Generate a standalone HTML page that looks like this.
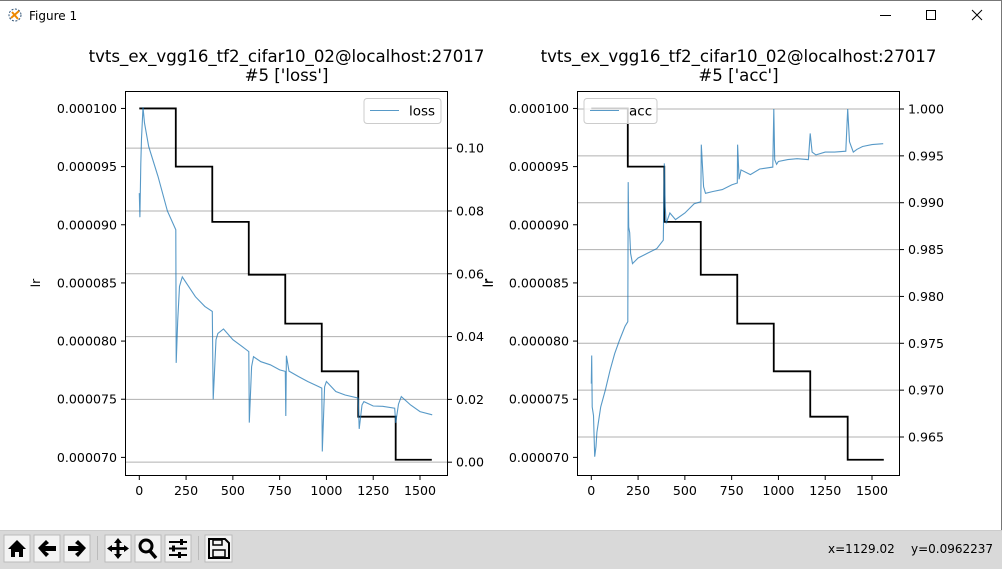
<!DOCTYPE html>
<html><head><meta charset="utf-8">
<style>
html,body{margin:0;padding:0;background:#fff;}
body{width:1002px;height:569px;position:relative;overflow:hidden;font-family:"DejaVu Sans","Liberation Sans",sans-serif;}
svg text{font-family:"DejaVu Sans","Liberation Sans",sans-serif;}
</style></head>
<body>
<svg id="fig" width="1002" height="569" viewBox="0 0 1002 569" xmlns="http://www.w3.org/2000/svg">
  <rect x="0" y="0" width="1002" height="569" fill="#fff"/>
  <line x1="0" y1="0.5" x2="1002" y2="0.5" stroke="#777"/>
  <line x1="1001.5" y1="0" x2="1001.5" y2="569" stroke="#777"/>
  <g>
    <circle cx="15" cy="15" r="6" fill="none" stroke="#357" stroke-dasharray="2,1.5"/>
    <path d="M11 18 L19 11 M12 12 L18 19" stroke="#e80" stroke-width="2"/>
    <text x="29" y="20" font-size="12" fill="#000" font-family="Liberation Sans, sans-serif">Figure 1</text>
    <line x1="880" y1="15.5" x2="891" y2="15.5" stroke="#000"/>
    <rect x="926.5" y="10.5" width="9" height="9" fill="none" stroke="#000"/>
    <path d="M972 10 L982 20 M982 10 L972 20" stroke="#000"/>
  </g>
  <g id="charts"></g>
  <g>
    <rect x="0" y="531" width="1002" height="38" fill="#d9d9d9"/>
    <line x1="0" y1="530.5" x2="1002" y2="530.5" stroke="#ccc"/>
    <g><rect x="4" y="535" width="26" height="27" fill="#f3f3f3" stroke="#bbb"/><path d="M17 540 L8 549 L11 549 L11 557 L15 557 L15 552 L19 552 L19 557 L23 557 L23 549 L26 549 Z" fill="#000"/></g>
    <g><rect x="34" y="535" width="26" height="27" fill="#f3f3f3" stroke="#bbb"/><path d="M38 548 L46 540 L49 543 L45 546 L56 546 L56 551 L45 551 L49 554 L46 557 Z" fill="#000"/></g>
    <g><rect x="64" y="535" width="26" height="27" fill="#f3f3f3" stroke="#bbb"/><path d="M86 548 L78 540 L75 543 L79 546 L68 546 L68 551 L79 551 L75 554 L78 557 Z" fill="#000"/></g>
    <line x1="97.5" y1="536" x2="97.5" y2="560" stroke="#bbb"/>
    <g><rect x="105" y="535" width="26" height="27" fill="#f3f3f3" stroke="#bbb"/><path d="M118 538 L122 543 L119.5 543 L119.5 547 L124 547 L124 545 L129 548.5 L124 552 L124 550 L119.5 550 L119.5 554 L122 554 L118 559 L114 554 L116.5 554 L116.5 550 L112 550 L112 552 L107 548.5 L112 545 L112 547 L116.5 547 L116.5 543 L114 543 Z" fill="#000"/></g>
    <g><rect x="135" y="535" width="26" height="27" fill="#f3f3f3" stroke="#bbb"/><circle cx="146" cy="546" r="6" fill="none" stroke="#000" stroke-width="3"/><line x1="150" y1="551" x2="156" y2="558" stroke="#000" stroke-width="3.5"/></g>
    <g><rect x="165" y="535" width="26" height="27" fill="#f3f3f3" stroke="#bbb"/><path d="M169 542h18M169 548.5h18M169 555h18" stroke="#000" stroke-width="2"/><rect x="180" y="539" width="3" height="6" fill="#000"/><rect x="172" y="545.5" width="3" height="6" fill="#000"/><rect x="178" y="552" width="3" height="6" fill="#000"/></g>
    <line x1="198.5" y1="536" x2="198.5" y2="560" stroke="#bbb"/>
    <g><rect x="205" y="535" width="27" height="27" fill="#f3f3f3" stroke="#bbb"/><path d="M209 539 H225 L229 543 V558 H209 Z" fill="none" stroke="#000" stroke-width="2"/><rect x="213" y="540" width="9" height="5" fill="none" stroke="#000" stroke-width="1.5"/><rect x="213" y="550" width="12" height="7" fill="none" stroke="#000" stroke-width="1.5"/></g>
    <text x="828" y="553" font-size="12" font-family="Liberation Sans, sans-serif">x=1129.02</text>
    <text x="911" y="553" font-size="12" font-family="Liberation Sans, sans-serif">y=0.0962237</text>
  </g>
</svg>
<script>
// ---- data ----
const lrStepStarts = [0, 195, 390, 585, 780, 975, 1170, 1370];
const lrValues = [0.0001, 0.000095, 0.00009025, 0.0000857, 0.0000815, 0.0000774, 0.0000735, 0.0000698];
const lrEndStep = 1563;
const lossSteps = [0,3,8,12,20,28,50,100,150,195,197,205,215,230,300,350,390,395,410,420,450,500,550,585,588,600,610,650,700,750,780,783,786,800,850,900,950,975,978,990,1000,1050,1100,1170,1175,1190,1200,1250,1300,1365,1370,1385,1400,1450,1500,1565];
const lossValues = [0.0857,0.078,0.095,0.103,0.113,0.108,0.1005,0.091,0.080,0.074,0.0316,0.045,0.056,0.059,0.0527,0.0496,0.048,0.020,0.039,0.041,0.0424,0.039,0.0368,0.0352,0.0126,0.0304,0.0336,0.032,0.031,0.0294,0.0289,0.0147,0.0339,0.029,0.0273,0.0257,0.0243,0.0236,0.0034,0.024,0.0257,0.0225,0.0214,0.0204,0.0106,0.0182,0.0193,0.0179,0.0178,0.0172,0.0125,0.0185,0.0209,0.0182,0.0161,0.0151];
const accSteps = [0,2,5,12,18,25,30,50,75,100,125,150,180,195,197,200,205,210,220,250,300,350,385,390,395,400,420,450,500,550,585,588,600,610,650,700,750,780,782,790,800,850,900,970,975,980,990,1000,1050,1100,1160,1170,1180,1200,1250,1300,1360,1370,1380,1400,1420,1450,1500,1560];
const accValues = [0.9707,0.9737,0.9682,0.9673,0.9629,0.964,0.9655,0.9682,0.970,0.9721,0.9739,0.9753,0.9768,0.9773,0.9922,0.9874,0.9868,0.9846,0.9835,0.9841,0.9846,0.9851,0.986,0.9942,0.9896,0.9878,0.9889,0.9882,0.9889,0.9899,0.9901,0.9962,0.9917,0.991,0.9912,0.9914,0.9919,0.9921,0.9962,0.9925,0.9935,0.993,0.9936,0.9938,1.0,0.9946,0.9941,0.9944,0.9946,0.9947,0.9946,0.9974,0.9954,0.9951,0.9954,0.9954,0.9955,1.0,0.9965,0.9954,0.9957,0.996,0.9962,0.9963];
const xTicks = [0,250,500,750,1000,1250,1500];
const lrTicks = [0.000070,0.000075,0.000080,0.000085,0.000090,0.000095,0.000100];
const lossTicks = [0.00,0.02,0.04,0.06,0.08,0.10];
const accTicks = [0.965,0.970,0.975,0.980,0.985,0.990,0.995,1.000];

const NS = 'http://www.w3.org/2000/svg';
const root = document.getElementById('charts');
function mk(tag, attrs, parent){const e=document.createElementNS(NS,tag);for(const k in attrs)e.setAttribute(k,attrs[k]);(parent||root).appendChild(e);return e;}
const FS = 12.6;

function drawChart(cfg){
  const g = mk('g',{});
  
  
  const L=cfg.left,R=cfg.left+323,T=91,B=476;
  const LRTOP=0.0001015, LRBOT=0.0000684;
  const xs = v => L + (v - (-76.4)) * (323/(1649.6+76.4));
  const yl = v => T + (LRTOP - v) * (385/(LRTOP-LRBOT));
  const yr = v => T + (cfg.rmax - v) * (385/(cfg.rmax-cfg.rmin));
  cfg.rTicks.forEach(t=>{
    const gl = mk('line',{x1:L,x2:R,y1:yr(t),y2:yr(t),stroke:'#b0b0b0','stroke-width':1},g);
    
    
  });
  let d='';
  lrStepStarts.forEach((s,i)=>{
    const e = i<lrStepStarts.length-1 ? lrStepStarts[i+1] : lrEndStep;
    d += (i===0?'M':'L')+xs(s)+' '+yl(lrValues[i])+' L'+xs(e)+' '+yl(lrValues[i])+' ';
  });
  const lrp = mk('path',{d:d,fill:'none',stroke:'#000','stroke-width':1.8},g);
  
  
  const sd = cfg.steps.map((s,i)=>(i?'L':'M')+xs(s).toFixed(1)+' '+yr(cfg.vals[i]).toFixed(1)).join(' ');
  const sp = mk('path',{d:sd,fill:'none',stroke:'#1f77b4','stroke-opacity':0.75,'stroke-width':1.1},g);
  
  
  const fr = mk('rect',{x:L+0.5,y:T+0.5,width:R-L-1,height:B-T-1,fill:'none',stroke:'#000','stroke-width':1},g);
  
  
  xTicks.forEach(t=>{
    mk('line',{x1:xs(t),x2:xs(t),y1:B,y2:B+4,stroke:'#000'},g);
    const tx = mk('text',{x:xs(t),y:B+19,'font-size':FS,'text-anchor':'middle'},g);
    tx.textContent = t;
    
    
  });
  lrTicks.forEach(t=>{
    mk('line',{x1:L-4,x2:L,y1:yl(t),y2:yl(t),stroke:'#000'},g);
    const tx = mk('text',{x:L-8,y:yl(t)+4.5,'font-size':FS,'text-anchor':'end'},g);
    tx.textContent = t.toFixed(6);
    
    
  });
  cfg.rTicks.forEach(t=>{
    mk('line',{x1:R,x2:R+4,y1:yr(t),y2:yr(t),stroke:'#000'},g);
    const tx = mk('text',{x:R+8,y:yr(t)+4.5,'font-size':FS},g);
    tx.textContent = t.toFixed(cfg.rDec);
    
    
  });
  const yl1 = mk('text',{x:0,y:0,'font-size':FS,'text-anchor':'middle',transform:`translate(${L-85},283) rotate(-90)`},g);
  yl1.textContent='lr';
  
  
  if (cfg.rightLabel) {
    const yl2 = mk('text',{x:0,y:0,'font-size':FS,'text-anchor':'middle',transform:`translate(${R+45},283) rotate(-90)`},g);
    yl2.textContent='lr';
    
    
  }
  const cx=(L+R)/2;
  const t1 = mk('text',{x:cx,y:62,'font-size':16.6,'text-anchor':'middle'},g);
  t1.textContent='tvts_ex_vgg16_tf2_cifar10_02@localhost:27017';
  
  
  const t2 = mk('text',{x:cx,y:81,'font-size':16.6,'text-anchor':'middle'},g);
  t2.textContent="#5 ['"+cfg.metric+"']";
  
  
  const lg = mk('g',{},g);
  
  
  mk('rect',{x:cfg.legX,y:98.5,width:cfg.legW,height:25,rx:3,fill:'#fff','fill-opacity':0.8,stroke:'#ccc'},lg);
  mk('line',{x1:cfg.legX+6,x2:cfg.legX+35,y1:110.5,y2:110.5,stroke:'#1f77b4','stroke-opacity':0.75,'stroke-width':1.1},lg);
  const lt = mk('text',{x:cfg.legX+45,y:115.5,'font-size':13.5},lg);
  lt.textContent=cfg.metric;
  
  
}
drawChart({name:'loss-chart',metric:'loss',left:125,steps:lossSteps,vals:lossValues,rTicks:lossTicks,rDec:2,rmax:0.1182,rmin:-0.0044,legX:364,legW:77,rightLabel:true});
drawChart({name:'acc-chart',metric:'acc',left:577,steps:accSteps,vals:accValues,rTicks:accTicks,rDec:3,rmax:1.00192,rmin:0.96084,legX:584,legW:73,rightLabel:false});
</script>
</body></html>
